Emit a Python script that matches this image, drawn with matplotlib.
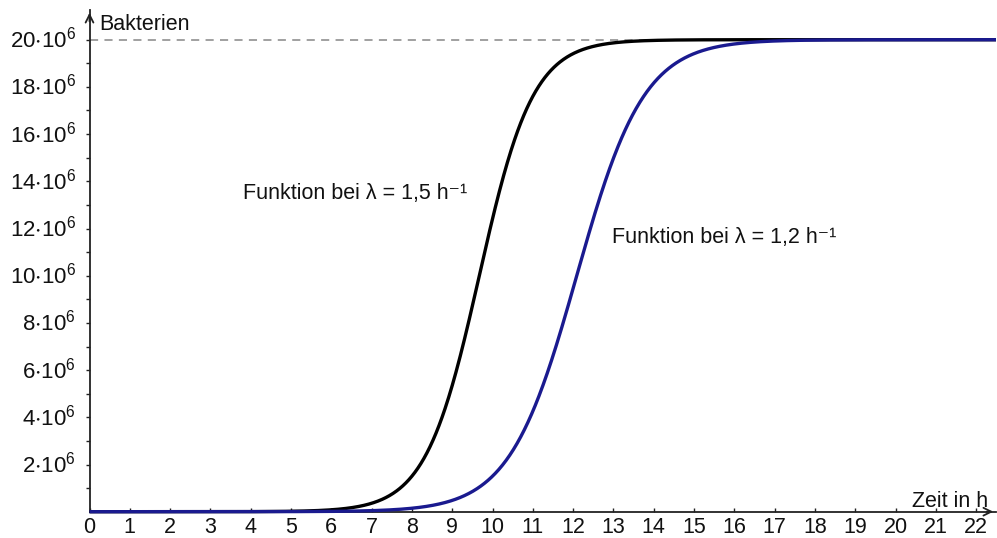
import numpy as np
import matplotlib
matplotlib.use("Agg")
import matplotlib.pyplot as plt
from matplotlib.transforms import ScaledTranslation

# --- data (model parameters) ---
capacity = 20e6          # Sättigungsgrenze (Bakterien)
start_count = 10         # Anfangsbestand
lambdas = [1.5, 1.2]     # Wachstumsraten in 1/h
curve_colors = ["#000000", "#1a1a8f"]
curve_labels = ["Funktion bei λ = 1,5 h⁻¹", "Funktion bei λ = 1,2 h⁻¹"]
label_pos = [(3.81, 13.5e6), (12.97, 11.6e6)]
x_ticks = list(range(0, 23))
y_ticks = [2e6 * k for k in range(1, 11)]
y_ticklabels = [r"$%d{\cdot}10^{6}$" % (2 * k) for k in range(1, 11)]

FAM = ["Liberation Sans", "DejaVu Sans"]
plt.rcParams["font.family"] = FAM
plt.rcParams["mathtext.fontset"] = "custom"
plt.rcParams["mathtext.rm"] = "Liberation Sans"
plt.rcParams["mathtext.it"] = "Liberation Sans"
plt.rcParams["mathtext.bf"] = "Liberation Sans:bold"
plt.rcParams["mathtext.default"] = "regular"

W, H = 997, 538
fig = plt.figure(figsize=(W / 100, H / 100), dpi=100)
x0px, y0px = 89.5, 511.7
x_right_px, y_top_px = 996, 10
px_per_x = 40.3
px_per_y = 47.2 / 2e6
xmax = (x_right_px - x0px) / px_per_x
ymax = (y0px - y_top_px) / px_per_y
ax = fig.add_axes([x0px / W, (H - y0px) / H, (x_right_px - x0px) / W, (y0px - y_top_px) / H])
ax.set_xlim(0, xmax)
ax.set_ylim(0, ymax)

FS = 15.5
t = np.linspace(0, xmax, 1500)
for lam, c, lab, (lx, ly) in zip(lambdas, curve_colors, curve_labels, label_pos):
    n = capacity / (1 + (capacity / start_count - 1) * np.exp(-lam * t))
    ax.plot(t, n, color=c, lw=2.4, solid_capstyle="butt", zorder=3, clip_on=False)
    ax.text(lx, ly, lab, fontsize=FS, va="center", ha="left", color="#111111")

ax.axhline(capacity, color="#999999", lw=1.3, ls=(0, (4.5, 3.5)), zorder=1)

for s in ["top", "right"]:
    ax.spines[s].set_visible(False)
for s in ["left", "bottom"]:
    ax.spines[s].set_linewidth(1.3)
    ax.spines[s].set_color("#222222")

ax.set_xticks(x_ticks)
ax.set_xticklabels([str(v) for v in x_ticks], fontsize=FS)
ax.set_yticks(y_ticks)
ax.set_yticklabels(y_ticklabels, fontsize=FS + 0.5)
ax.set_yticks([1e6 * k for k in range(1, 21, 2)], minor=True)
ax.tick_params(axis="x", which="major", direction="in", length=3, width=1, pad=4, colors="#222222", labelcolor="#111111")
ax.tick_params(axis="y", which="both", direction="out", length=3, width=1, pad=7, colors="#222222", labelcolor="#111111")

shift = ScaledTranslation(0, 2.5 / 100, fig.dpi_scale_trans)
for lab in ax.get_yticklabels():
    lab.set_transform(lab.get_transform() + shift)

# arrow heads
ax.annotate("", xy=(xmax, 0), xytext=(xmax - 0.3, 0),
            arrowprops=dict(arrowstyle="->", lw=1.3, color="#222222", mutation_scale=14),
            annotation_clip=False)
ax.annotate("", xy=(0, ymax), xytext=(0, ymax - 0.6e6),
            arrowprops=dict(arrowstyle="->", lw=1.3, color="#222222", mutation_scale=14),
            annotation_clip=False)

ax.text(0.25, ymax - 0.6e6, "Bakterien", fontsize=FS, ha="left", va="center", color="#111111")
ax.text(xmax - 0.2, 0.45e6, "Zeit in h", fontsize=FS, ha="right", va="center", color="#111111")

fig.savefig("out.png", dpi=100, facecolor="white")
